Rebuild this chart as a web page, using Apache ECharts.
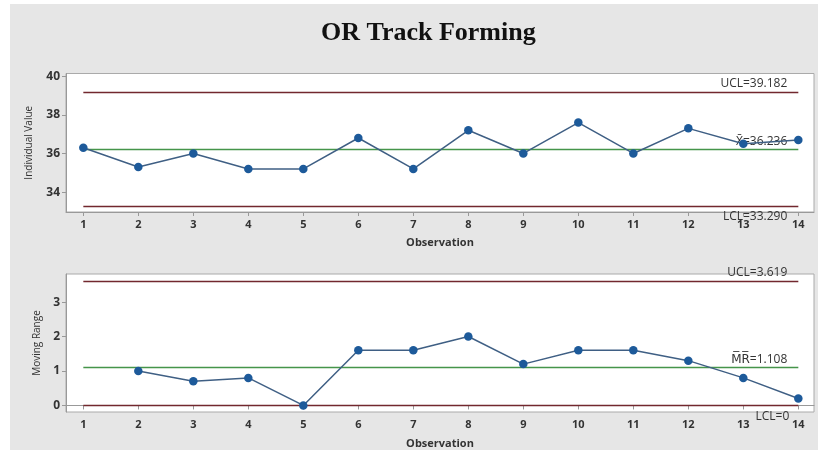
<!DOCTYPE html>
<html>
<head>
<meta charset="utf-8">
<script src="https://cdn.jsdelivr.net/npm/echarts@6/dist/echarts.min.js"></script>
<style>
html,body{margin:0;padding:0;background:#fff;}
#c{position:absolute;left:10px;top:4px;width:808px;height:446px;background:#e6e6e6;}
</style>
</head>
<body>
<div id="c"></div>
<script>
var observations = [1,2,3,4,5,6,7,8,9,10,11,12,13,14];
var individualValues = [36.3,35.3,36.0,35.2,35.2,36.8,35.2,37.2,36.0,37.6,36.0,37.3,36.5,36.7];
var movingRanges = [null,1.0,0.7,0.8,0.0,1.6,1.6,2.0,1.2,1.6,1.6,1.3,0.8,0.2];
var iLimits = [39.182, 36.236, 33.290];
var mrLimits = [3.619, 1.108, 0];
var iTicks = [34,36,38,40];
var mrTicks = [0,1,2,3];
var iLabels = ['UCL=39.182','X\u0304=36.236','LCL=33.290'];
var mrLabels = ['UCL=3.619','M\u0305R\u0305=1.108','LCL=0'];

var chart = echarts.init(document.getElementById('c'));
var ptColor = '#1d5a9a', lineColor = '#3f5f84', limColor = '#72282e', cenColor = '#45954a';
var sans = '"Open Sans", "DejaVu Sans", sans-serif';

function xAx(idx){
  return {type:'value', gridIndex:idx, min:0.685, max:14.285,
    name:'Observation', nameLocation:'middle', nameGap: idx===0?25:26,
    nameTextStyle:{fontSize:11, fontWeight:'bold', color:'#333', fontFamily:sans},
    axisLine:{show:true, lineStyle:{color:'#999'}},
    axisTick:{show:true, length:4, customValues:observations, lineStyle:{color:'#999'}},
    axisLabel:{customValues:observations, margin:7, fontSize:11, fontWeight:'bold', color:'#333', fontFamily:sans},
    splitLine:{show:false}};
}
function yAx(idx, min, max, ticks, name, gap){
  return {type:'value', gridIndex:idx, min:min, max:max, name:name, nameLocation:'middle', nameGap:gap,
    nameTextStyle:{fontSize:10, color:'#333', fontFamily:sans},
    axisLine:{show:true, lineStyle:{color:'#999'}},
    axisTick:{show:true, length:4, customValues:ticks, lineStyle:{color:'#999'}},
    axisLabel:{customValues:ticks, margin:6, fontSize:12, fontWeight:'bold', color:'#333', fontFamily:sans},
    splitLine:{show:false}};
}
function limitSeries(idx, v, color, text, pos, dist){
  return {type:'line', xAxisIndex:idx, yAxisIndex:idx, data:[], silent:true, color:color,
    markLine:{silent:true, symbol:'none', animation:false,
      lineStyle:{color:color, width:1.3, type:'solid', opacity:1},
      emphasis:{disabled:true},
      label:{show:true, formatter:text, position:pos, distance:dist, color:'#333', fontSize:12, fontFamily:sans},
      data:[[{coord:[1, v]}, {coord:[14, v]}]]}};
}
function pairs(vals){ return observations.map(function(o,i){ return [o, vals[i]]; }); }

var series = [
  {type:'line', xAxisIndex:0, yAxisIndex:0, data:pairs(individualValues), symbol:'circle', symbolSize:8.5,
    lineStyle:{color:lineColor, width:1.5}, itemStyle:{color:ptColor}, z:5},
  {type:'line', xAxisIndex:1, yAxisIndex:1, data:pairs(movingRanges), symbol:'circle', symbolSize:8.5,
    lineStyle:{color:lineColor, width:1.5}, itemStyle:{color:ptColor}, z:5},
  limitSeries(0, iLimits[0], limColor, iLabels[0], 'insideEndTop', [11, 2]),
  limitSeries(0, iLimits[1], cenColor, iLabels[1], 'insideEndTop', [11, 1]),
  limitSeries(0, iLimits[2], limColor, iLabels[2], 'insideEndBottom', [11, 5]),
  limitSeries(1, mrLimits[0], limColor, mrLabels[0], 'insideEndTop', [11, 2]),
  limitSeries(1, mrLimits[1], cenColor, mrLabels[1], 'insideEndTop', [11, 1.5]),
  limitSeries(1, mrLimits[2], limColor, mrLabels[2], 'insideEndBottom', [9, 5])
];

chart.setOption({
  animation:false,
  backgroundColor:'#e6e6e6',
  title:{text:'OR Track Forming', left:306, top:11,
    textStyle:{fontFamily:'"Liberation Serif", "Times New Roman", serif', fontSize:26, fontWeight:'bold', color:'#111'}},
  grid:[
    {left:56, top:69.5, right:4, height:138.5, show:true, backgroundColor:'#fff', borderColor:'#aaa', borderWidth:1},
    {left:56, top:270, right:4, height:141, show:true, backgroundColor:'#fff', borderColor:'#aaa', borderWidth:1}
  ],
  xAxis:[xAx(0), xAx(1)],
  yAxis:[yAx(0, 32.97, 40.14, iTicks, 'Individual Value', 32), yAx(1, -0.19, 3.815, mrTicks, 'Moving Range', 24)],
  series:series
});
</script>
</body>
</html>
